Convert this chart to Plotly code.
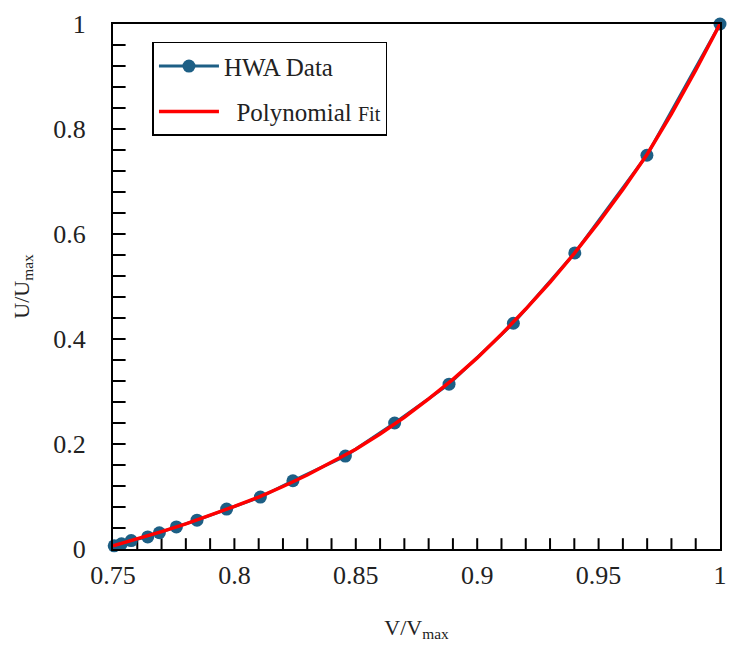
import plotly.graph_objects as go

# HWA measured data
hwa_x = [0.7505, 0.7535, 0.7575, 0.7643, 0.7691, 0.7761, 0.7846, 0.7968, 0.8107,
         0.8241, 0.8457, 0.8660, 0.8884, 0.9149, 0.9402, 0.9699, 1.0]
hwa_y = [0.006, 0.010, 0.016, 0.023, 0.031, 0.042, 0.055, 0.076, 0.099,
         0.130, 0.177, 0.240, 0.314, 0.430, 0.564, 0.750, 1.0]

# Polynomial fit curve
fit_x = [0.75, 0.76, 0.77, 0.78, 0.79, 0.80, 0.81, 0.82, 0.83, 0.84, 0.85, 0.86, 0.87,
         0.88, 0.89, 0.90, 0.91, 0.92, 0.93, 0.94, 0.95, 0.96, 0.97, 0.98, 0.99, 1.00]
fit_y = [0.006, 0.019, 0.033, 0.048, 0.064, 0.081, 0.099, 0.119, 0.141, 0.165, 0.190,
         0.219, 0.251, 0.286, 0.323, 0.364, 0.409, 0.457, 0.508, 0.563, 0.622, 0.685,
         0.752, 0.829, 0.912, 1.0]

# Tick positions (major labels + minor tick marks)
x_major = [0.75, 0.8, 0.85, 0.9, 0.95, 1.0]
x_labels = ["0.75", "0.8", "0.85", "0.9", "0.95", "1"]
y_major = [0, 0.2, 0.4, 0.6, 0.8, 1.0]
y_labels = ["0", "0.2", "0.4", "0.6", "0.8", "1"]
x_tickmarks = [round(0.75 + 0.01 * i, 2) for i in range(1, 25)]
y_tickmarks = [round(0.04 * i, 2) for i in range(1, 25)]

FONT = "Liberation Serif"
X_RANGE, Y_RANGE = [0.75, 1.0], [0.0, 1.0]
W, H = 735, 648
MARGIN = dict(l=113, r=8, t=24, b=99)
TICK_PX = 9
plot_h = H - MARGIN["t"] - MARGIN["b"]
half_tick = TICK_PX / 2 / plot_h * (Y_RANGE[1] - Y_RANGE[0])

fig = go.Figure()

# x-axis tick marks: vertical line symbols sitting on the axis, pointing inwards
fig.add_trace(go.Scatter(
    x=x_tickmarks, y=[Y_RANGE[0] + half_tick] * len(x_tickmarks), mode="markers",
    showlegend=False, hoverinfo="skip", cliponaxis=False,
    marker=dict(symbol="line-ns", size=TICK_PX, color="black", line=dict(color="black", width=2)),
))
# y-axis tick marks: line symbols centred on the axis, clipped to the plot area
fig.add_trace(go.Scatter(
    x=[X_RANGE[0]] * len(y_tickmarks), y=y_tickmarks, mode="markers", showlegend=False,
    hoverinfo="skip", cliponaxis=True,
    marker=dict(symbol="line-ew", size=2 * TICK_PX, color="black", line=dict(color="black", width=2)),
))

fig.add_trace(go.Scatter(
    x=hwa_x, y=hwa_y, mode="lines+markers", name="HWA Data",
    line=dict(color="#1d5f85", width=3),
    marker=dict(color="#1d5f85", size=13),
    cliponaxis=False, legendgroup="a",
))
fig.add_trace(go.Scatter(
    x=fit_x, y=fit_y, mode="lines", name="  Polynomial <span style='font-size:20px'>Fit</span>",
    line=dict(color="#ff0000", width=3.5),
    cliponaxis=False, legendgroup="b",
))

fig.update_layout(
    width=W, height=H,
    margin=MARGIN,
    paper_bgcolor="white", plot_bgcolor="white",
    font=dict(family=FONT, color="#222"),
    showlegend=True,
    xaxis=dict(
        range=X_RANGE, tickmode="array", tickvals=x_major, ticktext=x_labels,
        showline=True, linecolor="black", linewidth=2, mirror=True,
        ticks="", showgrid=False, zeroline=False,
        tickfont=dict(family=FONT, size=26, color="#222"),
        ticklabelstandoff=2,
        title=dict(text="V/V<sub>max</sub>", font=dict(family=FONT, size=22, color="#222"), standoff=30),
    ),
    yaxis=dict(
        range=Y_RANGE, tickmode="array", tickvals=y_major, ticktext=y_labels,
        showline=True, linecolor="black", linewidth=2, mirror=True,
        ticks="", showgrid=False, zeroline=False,
        tickfont=dict(family=FONT, size=26, color="#222"),
        title=dict(text="U/U<sub>max</sub>", font=dict(family=FONT, size=22, color="#222"), standoff=18),
        ticklabelstandoff=20,
    ),
    legend=dict(
        x=0.065, y=0.966, xanchor="left", yanchor="top",
        bordercolor="black", borderwidth=1.5, bgcolor="white",
        font=dict(family=FONT, size=25, color="#222"),
        itemwidth=60, tracegroupgap=10,
    ),
)

fig.write_html("out.html")
